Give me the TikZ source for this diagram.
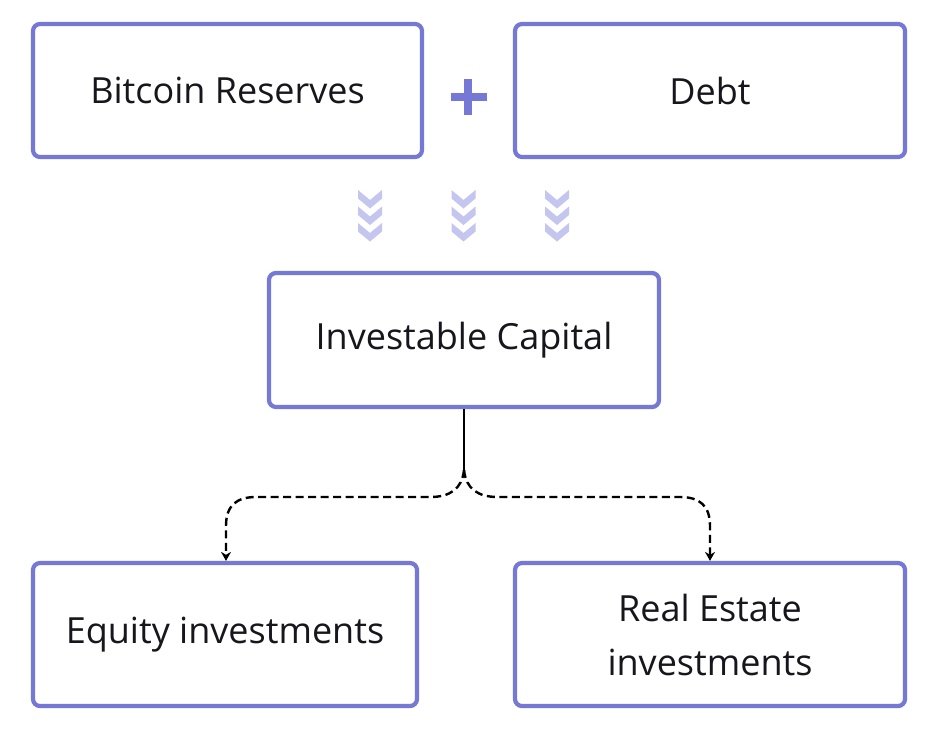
\documentclass[tikz,border=0pt]{standalone}
\usepackage{fontspec}
\setmainfont{Open Sans}
\usetikzlibrary{arrows.meta}
\definecolor{boxc}{RGB}{118,120,214}
\definecolor{chev}{RGB}{196,198,240}
\definecolor{txt}{RGB}{22,22,28}
\tikzset{
  card/.style={draw=boxc, line width=4.2pt, rounded corners=7pt, fill=white,
    text=txt, align=center, inner sep=0pt,
    font=\fontsize{36}{54}\selectfont},
  chevron/.style={fill=chev, draw=none},
  branch/.style={line width=2.4pt, dash pattern=on 8pt off 4.5pt, -{Stealth[length=9pt,width=10pt]}},
}
\newcommand{\chevcol}[1]{%
  \foreach \ty in {190,206.5,223}{
    \fill[chevron] (#1-12,\ty) -- (#1,\ty+10) -- (#1+12,\ty) -- (#1+12,\ty+8.5) -- (#1,\ty+18.5) -- (#1-12,\ty+8.5) -- cycle;
  }}
\begin{document}
\begin{tikzpicture}[x=1pt,y=-1pt]
\useasboundingbox (0,0) rectangle (936,732);
\fill[white] (0,0) rectangle (936,732);

\node[card, minimum width=389pt, minimum height=133pt] (btc) at (227.5,90.5) {Bitcoin Reserves};
\node[card, minimum width=390pt, minimum height=133pt] (debt) at (710,90.5) {Debt};
\node[card, minimum width=390pt, minimum height=134pt] (ic) at (464,340) {Investable Capital};
\node[card, minimum width=384pt, minimum height=143pt] (eq) at (225,634.5) {Equity investments};
\node[card, minimum width=390pt, minimum height=143pt] (re) at (710,634.5) {Real Estate\\investments};

% plus sign
\fill[boxc] (451,93) rectangle (487,101);
\fill[boxc] (464,79) rectangle (472,115);

% chevrons
\chevcol{370}
\chevcol{463.5}
\chevcol{557}

% connectors
\coordinate (j) at (464,470);
\draw[line width=2.4pt] (ic.south) -- (j);
\draw[branch] (j) .. controls (462,489) and (450,497) .. (430,497) -- (256,497)
  .. controls (236,497) and (226,506) .. (226,526) -- (eq.north -| 226,0);
\draw[branch] (j) .. controls (466,489) and (478,497) .. (498,497) -- (680,497)
  .. controls (700,497) and (710,506) .. (710,526) -- (re.north);
\end{tikzpicture}
\end{document}
